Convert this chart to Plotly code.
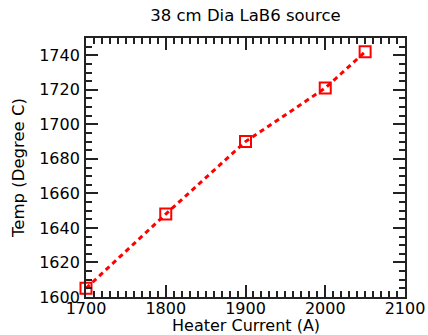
import plotly.graph_objects as go

current = [1700, 1800, 1900, 2000, 2050]
temp = [1605, 1648, 1690, 1721, 1742]

fig = go.Figure()
fig.add_trace(go.Scatter(
    x=current, y=temp, mode="lines+markers",
    line=dict(color="red", width=3, dash="5px,4px"),
    marker=dict(symbol="square-open", size=11, color="red", line=dict(width=2, color="red")),
    cliponaxis=False,
))

font = dict(family="DejaVu Sans", size=16.5, color="black")
tfont = dict(family="DejaVu Sans", size=16, color="black")
axcommon = dict(
    showgrid=False, zeroline=False, showline=True, linecolor="#222", linewidth=1.8,
    mirror="allticks", ticks="inside", ticklen=12, tickwidth=1.8, tickcolor="#222",
    tickfont=tfont, automargin=False,
)
fig.update_xaxes(range=[1700, 2100], dtick=100, tick0=1700, ticklabelstandoff=-4,
                 minor=dict(dtick=10, ticks="inside", ticklen=6, tickwidth=1.5, tickcolor="#222"),
                 **axcommon)
fig.update_yaxes(range=[1600, 1750], dtick=20, tick0=1600, ticklabelstandoff=1,
                 minor=dict(dtick=5, ticks="inside", ticklen=6, tickwidth=1.5, tickcolor="#222"),
                 title=dict(text="Temp (Degree C)", font=font, standoff=10), **axcommon)
fig.add_annotation(text="Heater Current (A)", xref="paper", yref="paper", x=0.5, y=0,
                   yshift=-39, xanchor="center", yanchor="bottom", showarrow=False,
                   font=dict(family="DejaVu Sans", size=16, color="black"), borderpad=0)
fig.update_layout(
    width=428, height=335, margin=dict(l=86, r=23, t=38, b=38),
    plot_bgcolor="white", paper_bgcolor="white", showlegend=False,
    title=dict(text="38 cm Dia LaB6 source", x=0.5, xref="paper", y=1, yref="container",
               yanchor="top", pad=dict(t=9), font=font),
)
fig.write_html("out.html")
